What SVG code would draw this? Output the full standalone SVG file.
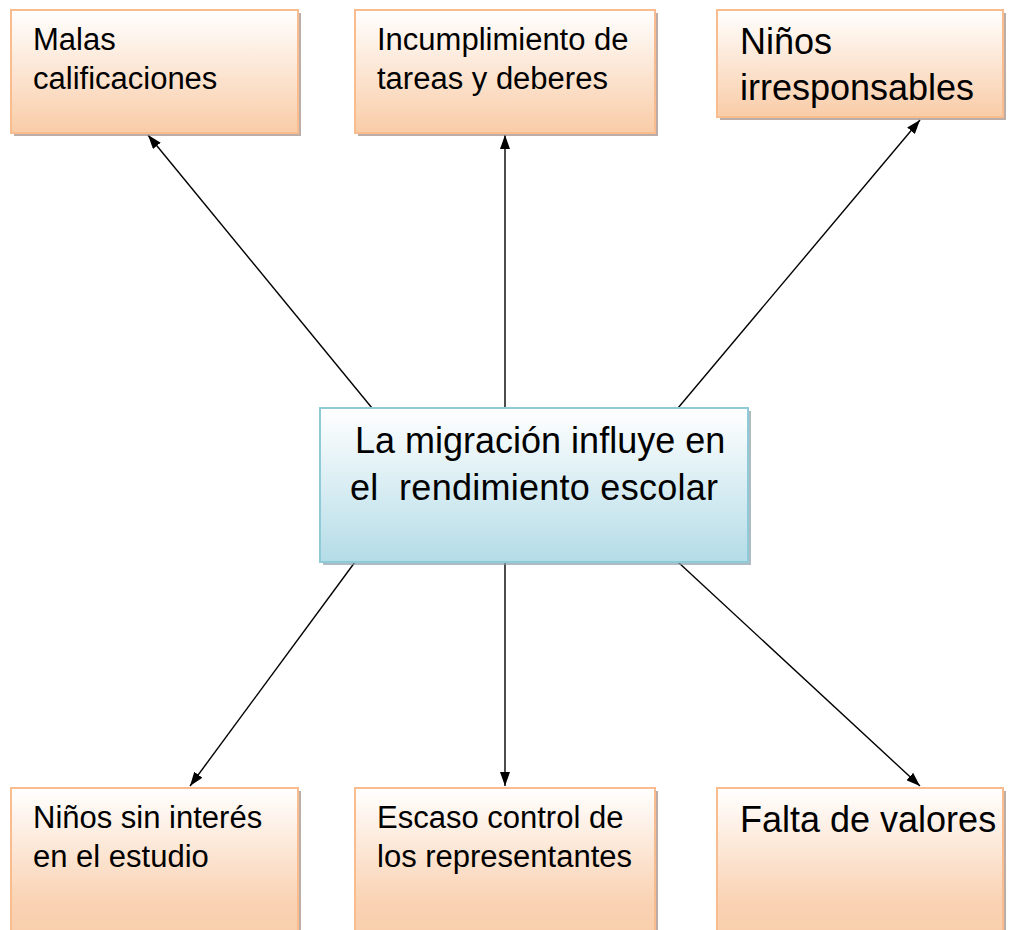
<svg xmlns="http://www.w3.org/2000/svg" width="1017" height="930" viewBox="0 0 1017 930">
<defs>
<linearGradient id="peach" x1="0" y1="0" x2="0" y2="1">
<stop offset="0" stop-color="#FFFFFF"/>
<stop offset="1" stop-color="#F9CCA7"/>
</linearGradient>
<linearGradient id="peachTall" x1="0" y1="0" x2="0" y2="1">
<stop offset="0" stop-color="#FFFFFF"/>
<stop offset="0.7" stop-color="#FAD3B4"/>
<stop offset="1" stop-color="#F9CDA9"/>
</linearGradient>
<linearGradient id="blue" x1="0" y1="0" x2="0" y2="1">
<stop offset="0" stop-color="#FFFFFF"/>
<stop offset="1" stop-color="#B4DCE7"/>
</linearGradient>
<marker id="ah" viewBox="0 0 14 10" refX="14" refY="5" markerWidth="14" markerHeight="10" markerUnits="userSpaceOnUse" orient="auto">
<path d="M0,0 L14,5 L0,10 Z" fill="#000"/>
</marker>
</defs>
<style>
.sh{fill:#A08C80;opacity:0.7}
.shb{fill:#8AA0A8;opacity:0.7}
.pb{fill:url(#peach);stroke:#F8BC8E;stroke-width:2}
.pt{fill:url(#peachTall);stroke:#F8BC8E;stroke-width:2}
.bb{fill:url(#blue);stroke:#8FCAD8;stroke-width:2}
.t{font-family:"Liberation Sans",Arial,sans-serif;fill:#000}
.s{font-size:31px}
.l{font-size:36px}
.c line{stroke:#000;stroke-width:1.4;marker-end:url(#ah)}
</style>
<rect width="1017" height="930" fill="#FFFFFF"/>

<g id="connectors" class="c">
<line x1="372" y1="408" x2="148" y2="135"/>
<line x1="505" y1="408" x2="505" y2="135"/>
<line x1="678" y1="408" x2="920" y2="120"/>
<line x1="355" y1="562" x2="190" y2="786"/>
<line x1="505" y1="562" x2="505" y2="786"/>
<line x1="678" y1="562" x2="920" y2="786"/>
</g>

<g id="n-malas">
<rect class="sh" x="14" y="13" width="287" height="123"/>
<rect class="pb" x="11" y="10" width="287" height="123"/>
<text class="t s" x="33" y="50">Malas</text>
<text class="t s" x="33" y="89">calificaciones</text>
</g>

<g id="n-incumplimiento">
<rect class="sh" x="358" y="13" width="300" height="123"/>
<rect class="pb" x="355" y="10" width="300" height="123"/>
<text class="t s" x="377" y="50">Incumplimiento de</text>
<text class="t s" x="377" y="89">tareas y deberes</text>
</g>

<g id="n-irresponsables">
<rect class="sh" x="720" y="13" width="286" height="107"/>
<rect class="pb" x="717" y="10" width="286" height="107"/>
<text class="t l" x="740" y="54">Niños</text>
<text class="t l" x="740" y="100">irresponsables</text>
</g>

<g id="n-center">
<rect class="shb" x="323" y="411" width="428" height="154"/>
<rect class="bb" x="320" y="408" width="428" height="154"/>
<text class="t l" x="355" y="453">La migración influye en</text>
<text class="t l" x="350" y="500" xml:space="preserve" textLength="368">el  rendimiento escolar</text>
</g>

<g id="n-interes">
<rect class="sh" x="14" y="791" width="287" height="160"/>
<rect class="pt" x="11" y="788" width="287" height="160"/>
<text class="t s" x="33" y="828">Niños sin interés</text>
<text class="t s" x="33" y="867">en el estudio</text>
</g>

<g id="n-control">
<rect class="sh" x="358" y="791" width="300" height="160"/>
<rect class="pt" x="355" y="788" width="300" height="160"/>
<text class="t s" x="377" y="828">Escaso control de</text>
<text class="t s" x="377" y="867">los representantes</text>
</g>

<g id="n-valores">
<rect class="sh" x="720" y="791" width="286" height="160"/>
<rect class="pt" x="717" y="788" width="286" height="160"/>
<text class="t l" x="740" y="832">Falta de valores</text>
</g>
</svg>
